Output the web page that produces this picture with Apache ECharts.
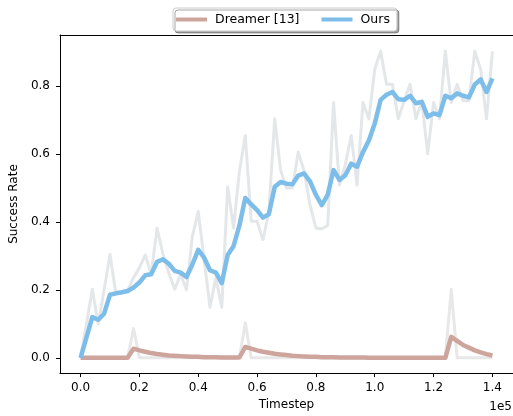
<!DOCTYPE html>
<html>
<head>
<meta charset="utf-8">
<script src="https://cdn.jsdelivr.net/npm/echarts@6.0.0/dist/echarts.min.js"></script>
<style>
  html, body { margin: 0; padding: 0; background: #fff; }
  #chart { width: 513px; height: 416px; }
</style>
</head>
<body>
<div id="chart"></div>
<script>
// timesteps (x values)
const timesteps = [
  0, 2000, 4000, 6000, 8000, 10000, 12000, 14000, 16000, 18000,
  20000, 22000, 24000, 26000, 28000, 30000, 32000, 34000, 36000, 38000,
  40000, 42000, 44000, 46000, 48000, 50000, 52000, 54000, 56000, 58000,
  60000, 62000, 64000, 66000, 68000, 70000, 72000, 74000, 76000, 78000,
  80000, 82000, 84000, 86000, 88000, 90000, 92000, 94000, 96000, 98000,
  100000, 102000, 104000, 106000, 108000, 110000, 112000, 114000, 116000, 118000,
  120000, 122000, 124000, 126000, 128000, 130000, 132000, 134000, 136000, 138000,
  140000,
];

// Ours: raw success rate (grey) and smoothed (blue)
const oursRaw = [
  0, 0.1, 0.202, 0.1, 0.2, 0.305, 0.188, 0.19, 0.198, 0.236,
  0.265, 0.303, 0.246, 0.382, 0.305, 0.25, 0.202, 0.246, 0.2, 0.358,
  0.431, 0.29, 0.149, 0.236, 0.149, 0.504, 0.382, 0.55, 0.655, 0.402,
  0.402, 0.348, 0.43, 0.704, 0.553, 0.5, 0.5, 0.606, 0.55, 0.45,
  0.382, 0.38, 0.39, 0.752, 0.509, 0.57, 0.655, 0.509, 0.752, 0.704,
  0.85, 0.903, 0.806, 0.806, 0.704, 0.757, 0.806, 0.704, 0.757, 0.601,
  0.752, 0.704, 0.903, 0.752, 0.806, 0.757, 0.757, 0.903, 0.85, 0.704,
  0.903,
];
const oursSmooth = [
  0, 0.06, 0.12, 0.112, 0.13, 0.186, 0.19, 0.193, 0.197, 0.207,
  0.222, 0.243, 0.246, 0.283, 0.29, 0.277, 0.256, 0.251, 0.238, 0.275,
  0.318, 0.295, 0.258, 0.251, 0.22, 0.303, 0.329, 0.39, 0.471, 0.452,
  0.435, 0.413, 0.423, 0.504, 0.518, 0.513, 0.511, 0.537, 0.543, 0.52,
  0.48, 0.45, 0.48, 0.553, 0.524, 0.538, 0.572, 0.563, 0.606, 0.64,
  0.69, 0.76, 0.775, 0.783, 0.762, 0.76, 0.772, 0.75, 0.754, 0.71,
  0.72, 0.715, 0.772, 0.765, 0.779, 0.772, 0.767, 0.805, 0.82, 0.783,
  0.823,
];

// Dreamer [13]: raw (grey) and smoothed (rosy)
const dreamerRaw = [
  0, 0, 0, 0, 0, 0, 0, 0, 0, 0.086,
  0, 0, 0, 0, 0, 0, 0, 0, 0, 0,
  0, 0, 0, 0, 0, 0, 0, 0, 0.103, 0,
  0, 0, 0, 0, 0, 0, 0, 0, 0, 0,
  0, 0, 0, 0, 0, 0, 0, 0, 0, 0,
  0, 0, 0, 0, 0, 0, 0, 0, 0, 0,
  0, 0, 0, 0.202, 0, 0, 0, 0, 0, 0,
  0,
];
const dreamerSmooth = [
  0, 0, 0, 0, 0, 0, 0, 0, 0, 0.027,
  0.022, 0.018, 0.014, 0.011, 0.009, 0.007, 0.006, 0.005, 0.004, 0.003,
  0.003, 0.002, 0.002, 0.002, 0.001, 0.001, 0.001, 0.001, 0.032, 0.027,
  0.022, 0.018, 0.015, 0.012, 0.01, 0.008, 0.006, 0.005, 0.004, 0.003,
  0.003, 0.002, 0.002, 0.002, 0.001, 0.001, 0.001, 0.001, 0.001, 0,
  0, 0, 0, 0, 0, 0, 0, 0, 0, 0,
  0, 0, 0, 0.062, 0.05, 0.038, 0.03, 0.022, 0.016, 0.011,
  0.007,
];

// tick positions
const xTicks = [0, 20000, 40000, 60000, 80000, 100000, 120000, 140000];
const yTicks = [0, 0.2, 0.4, 0.6, 0.8];

const FONT = 'DejaVu Sans';
const pairs = (ys) => timesteps.map((t, i) => [t, ys[i]]);

const chart = echarts.init(document.getElementById('chart'), null, { renderer: 'canvas' });

const lineSeries = (name, ys, color, width, z) => ({
  name,
  type: 'line',
  data: pairs(ys),
  showSymbol: false,
  symbol: 'none',
  silent: true,
  z,
  lineStyle: { color, width, join: 'round', cap: 'butt' },
  itemStyle: { color },
});

chart.setOption({
  animation: false,
  textStyle: { fontFamily: FONT },
  grid: { left: 57, right: 0, top: 35, bottom: 40, containLabel: false },
  legend: {
    data: ['Dreamer [13]', 'Ours'],
    left: 173,
    top: 8,
    icon: 'rect',
    itemWidth: 31,
    itemHeight: 4,
    itemGap: 22,
    padding: [5, 7, 5, 3],
    backgroundColor: '#fff',
    borderColor: '#cccccc',
    borderWidth: 1,
    borderRadius: 3,
    shadowColor: 'rgba(0,0,0,0.35)',
    shadowOffsetX: 2,
    shadowOffsetY: 2,
    shadowBlur: 0,
    selectedMode: false,
    textStyle: { fontFamily: FONT, fontSize: 12.5, color: '#000', padding: [0, 0, 0, 3] },
  },
  xAxis: [
    {
      type: 'value',
      min: -7000,
      max: 147000,
      splitLine: { show: false },
      axisLine: { show: true, onZero: false, lineStyle: { color: '#000', width: 1 } },
      axisTick: { show: true, length: 4, lineStyle: { color: '#000' }, customValues: xTicks },
      axisLabel: {
        customValues: xTicks,
        margin: 9,
        color: '#000',
        fontFamily: FONT,
        fontSize: 12,
        formatter: (v) => (v / 100000).toFixed(1),
      },
      name: 'Timestep',
      nameLocation: 'middle',
      nameGap: 25,
      nameTextStyle: { color: '#000', fontFamily: FONT, fontSize: 12 },
    },
    {
      // top spine
      type: 'value',
      position: 'top',
      min: -7000,
      max: 147000,
      splitLine: { show: false },
      axisLine: { show: true, onZero: false, lineStyle: { color: '#000', width: 1 } },
      axisTick: { show: false },
      axisLabel: { show: false },
    },
  ],
  yAxis: {
    type: 'value',
    min: -0.045,
    max: 0.951,
    splitLine: { show: false },
    axisLine: { show: true, onZero: false, lineStyle: { color: '#000', width: 1 } },
    axisTick: { show: true, length: 4, lineStyle: { color: '#000' }, customValues: yTicks },
    axisLabel: {
      customValues: yTicks,
      margin: 10,
      color: '#000',
      fontFamily: FONT,
      fontSize: 12,
      formatter: (v) => v.toFixed(1),
    },
    name: 'Success Rate',
    nameLocation: 'middle',
    nameGap: 34,
    nameTextStyle: { color: '#000', fontFamily: FONT, fontSize: 12 },
  },
  graphic: [
    {
      type: 'text',
      right: 1,
      top: 401,
      style: { text: '1e5', fill: '#000', font: '12px "DejaVu Sans"' },
    },
  ],
  series: [
    lineSeries('dreamerRaw', dreamerRaw, '#e8e8e8', 3, 1),
    lineSeries('oursRaw', oursRaw, '#e4e7ea', 3, 2),
    lineSeries('Dreamer [13]', dreamerSmooth, '#cda59d', 4.5, 3),
    lineSeries('Ours', oursSmooth, '#7dbde9', 4.5, 4),
  ],
});
</script>
</body>
</html>
